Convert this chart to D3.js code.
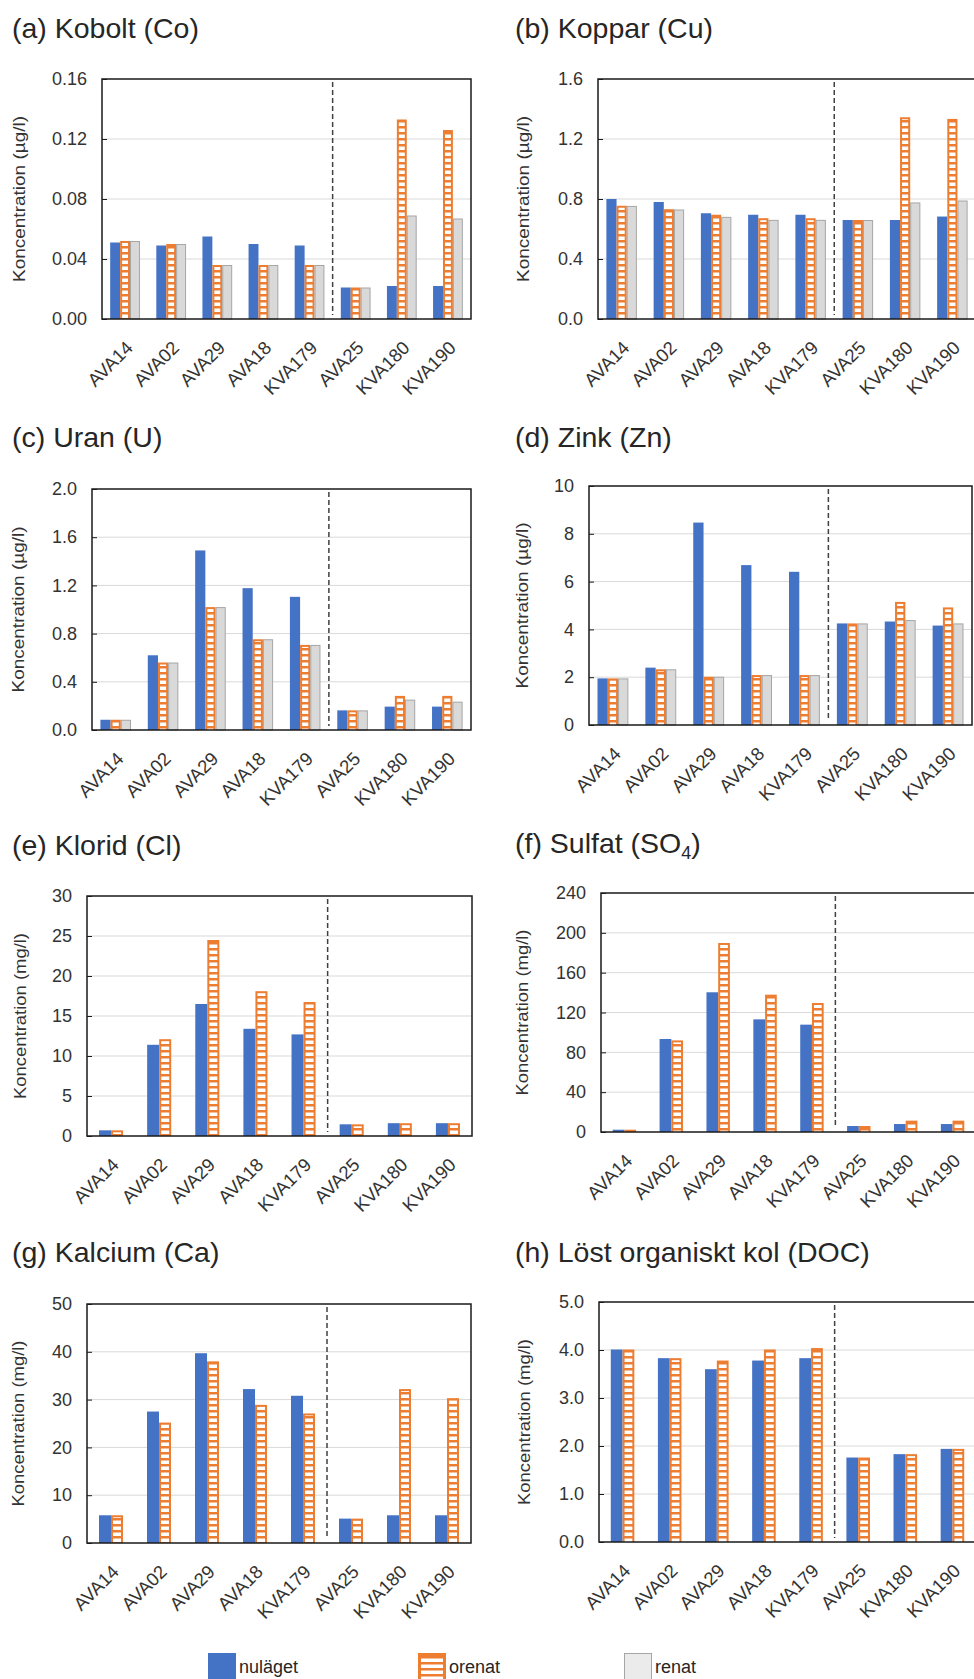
<!DOCTYPE html>
<html><head><meta charset="utf-8">
<script src="https://cdn.jsdelivr.net/npm/d3@7"></script>
<style>
html,body{margin:0;padding:0;background:#fff;}
svg{display:block;font-family:"Liberation Sans",Arial,sans-serif;}
</style></head>
<body><svg id="chart" width="974" height="1679"></svg>
<script>
// ---------- DATA ----------
const categories = ["AVA14","AVA02","AVA29","AVA18","KVA179","AVA25","KVA180","KVA190"];
const seriesNames = ["nuläget","orenat","renat"];

const coNuläget = [0.051,0.049,0.055,0.050,0.049,0.021,0.022,0.022];
const coOrenat  = [0.052,0.050,0.036,0.036,0.036,0.021,0.133,0.126];
const coRenat   = [0.052,0.050,0.036,0.036,0.036,0.021,0.069,0.067];

const cuNuläget = [0.80,0.78,0.705,0.695,0.695,0.66,0.66,0.683];
const cuOrenat  = [0.755,0.732,0.695,0.672,0.672,0.66,1.345,1.334];
const cuRenat   = [0.754,0.730,0.681,0.661,0.661,0.66,0.777,0.790];

const uNuläget = [0.085,0.62,1.49,1.177,1.105,0.163,0.194,0.194];
const uOrenat  = [0.085,0.56,1.02,0.753,0.706,0.163,0.283,0.283];
const uRenat   = [0.085,0.56,1.02,0.753,0.706,0.163,0.252,0.235];

const znNuläget = [1.95,2.40,8.47,6.69,6.41,4.25,4.33,4.16];
const znOrenat  = [1.95,2.33,2.02,2.09,2.09,4.25,5.15,4.92];
const znRenat   = [1.95,2.33,2.02,2.09,2.09,4.25,4.39,4.25];

const clNuläget = [0.71,11.4,16.5,13.4,12.7,1.46,1.6,1.6];
const clOrenat  = [0.71,12.1,24.5,18.1,16.75,1.46,1.6,1.6];

const so4Nuläget = [2.3,93.4,140.3,113.1,107.8,6.0,8.0,8.0];
const so4Orenat  = [2.3,92.0,189.8,137.9,129.5,6.0,11.4,11.4];

const caNuläget = [5.8,27.5,39.7,32.2,30.8,5.1,5.8,5.8];
const caOrenat  = [5.8,25.2,38.0,28.9,27.1,5.1,32.2,30.3];

const docNuläget = [4.01,3.83,3.60,3.78,3.83,1.76,1.83,1.94];
const docOrenat  = [4.01,3.83,3.78,4.01,4.04,1.76,1.83,1.94];

const yTicksCo  = [0,0.04,0.08,0.12,0.16];
const yTicksCu  = [0,0.4,0.8,1.2,1.6];
const yTicksU   = [0,0.4,0.8,1.2,1.6,2.0];
const yTicksZn  = [0,2,4,6,8,10];
const yTicksCl  = [0,5,10,15,20,25,30];
const yTicksSO4 = [0,40,80,120,160,200,240];
const yTicksCa  = [0,10,20,30,40,50];
const yTicksDOC = [0,1,2,3,4,5];

const titles = ["(a) Kobolt (Co)","(b) Koppar (Cu)","(c) Uran (U)","(d) Zink (Zn)",
                "(e) Klorid (Cl)","(f) Sulfat (SO|4|)","(g) Kalcium (Ca)","(h) Löst organiskt kol (DOC)"];
const yLabels = ["Koncentration (µg/l)","Koncentration (µg/l)","Koncentration (µg/l)","Koncentration (µg/l)",
                 "Koncentration (mg/l)","Koncentration (mg/l)","Koncentration (mg/l)","Koncentration (mg/l)"];

// ---------- LAYOUT ----------
const layout = [
  {x0:102,x1:471,y0:79,y1:319,tx:12,ty:38,lx:19,fmt:".2f"},
  {x0:598,x1:976,y0:79,y1:319,tx:515,ty:38,lx:523,fmt:".1f"},
  {x0:92,x1:471,y0:489,y1:730,tx:12,ty:447,lx:18,fmt:".1f"},
  {x0:589,x1:972,y0:486,y1:725,tx:515,ty:447,lx:522,fmt:"d"},
  {x0:87,x1:472,y0:896,y1:1136,tx:12,ty:855,lx:20,fmt:"d"},
  {x0:601,x1:976,y0:893,y1:1132,tx:515,ty:853,lx:522,fmt:"d"},
  {x0:87,x1:471,y0:1304,y1:1543,tx:12,ty:1262,lx:18,fmt:"d"},
  {x0:599,x1:976,y0:1302,y1:1542,tx:515,ty:1262,lx:524,fmt:".1f"}
];
const panelSeries = [
  [coNuläget,coOrenat,coRenat],[cuNuläget,cuOrenat,cuRenat],
  [uNuläget,uOrenat,uRenat],[znNuläget,znOrenat,znRenat],
  [clNuläget,clOrenat],[so4Nuläget,so4Orenat],
  [caNuläget,caOrenat],[docNuläget,docOrenat]
];
const panelTicks = [yTicksCo,yTicksCu,yTicksU,yTicksZn,yTicksCl,yTicksSO4,yTicksCa,yTicksDOC];

const BLUE="#4472C4", ORANGE="#ED7D31", GRAYF="#D9D9D9", GRAYS="#A6A6A6";
const FONT="Liberation Sans, Arial, sans-serif";
const svg = d3.select("#chart");
const defs = svg.append("defs");
const pat = defs.append("pattern").attr("id","stripes").attr("patternUnits","userSpaceOnUse")
  .attr("width",40).attr("height",6);
pat.append("rect").attr("x",0).attr("y",0).attr("width",40).attr("height",6).attr("fill",ORANGE);
pat.append("rect").attr("x",0).attr("y",2.5).attr("width",40).attr("height",3.5).attr("fill","#fff");

function drawPanel(i){
  const L = layout[i], series = panelSeries[i], ticks = panelTicks[i];
  const g = svg.append("g");
  const x = d3.scaleBand().domain(categories).range([L.x0,L.x1]);
  const y = d3.scaleLinear().domain([ticks[0],ticks[ticks.length-1]]).range([L.y1,L.y0]);
  const n = series.length;
  const bw = n===3 ? x.bandwidth()*0.215 : x.bandwidth()*0.25;
  const inner = d3.scaleBand().domain(d3.range(n)).range([0,bw*n]);
  const off = (x.bandwidth()-bw*n)/2;

  // gridlines
  g.append("g").selectAll("line").data(ticks.slice(1,-1)).join("line")
    .attr("x1",L.x0).attr("x2",L.x1).attr("y1",d=>y(d)).attr("y2",d=>y(d))
    .attr("stroke","#D9D9D9").attr("stroke-width",1);

  // bars
  series.forEach((vals,s)=>{
    const bg = g.append("g");
    categories.forEach((c,k)=>{
      const bx = x(c)+off+inner(s), by = y(vals[k]), bh = y(0)-y(vals[k]);
      if(s===0){
        bg.append("rect").attr("x",bx).attr("y",by).attr("width",bw).attr("height",bh).attr("fill",BLUE);
      } else if(s===1){
        bg.append("rect").attr("x",bx).attr("y",by).attr("width",bw).attr("height",bh).attr("fill",ORANGE);
        if(bh>3 && bw>4) bg.append("rect").attr("x",bx+2).attr("y",by+2).attr("width",bw-4).attr("height",bh-2)
          .attr("fill","url(#stripes)");
      } else {
        bg.append("rect").attr("x",bx+0.5).attr("y",by+0.5).attr("width",bw-1).attr("height",bh-0.5)
          .attr("fill",GRAYF).attr("stroke",GRAYS).attr("stroke-width",1);
      }
    });
  });

  // dashed separator between KVA179 and AVA25
  const sx = x("AVA25");
  g.append("line").attr("x1",sx).attr("x2",sx).attr("y1",L.y0+3).attr("y2",L.y1-4)
    .attr("stroke","#404040").attr("stroke-width",1.5).attr("stroke-dasharray","5,3");

  // frame
  g.append("rect").attr("x",L.x0).attr("y",L.y0).attr("width",L.x1-L.x0).attr("height",L.y1-L.y0)
    .attr("fill","none").attr("stroke","#1a1a1a").attr("stroke-width",1.5);

  // y axis
  const yAxis = d3.axisLeft(y).tickValues(ticks).tickFormat(d3.format(L.fmt)).tickSizeInner(-5).tickSizeOuter(0).tickPadding(15);
  const ya = g.append("g").attr("transform",`translate(${L.x0},0)`).call(yAxis);
  ya.select(".domain").remove();
  ya.selectAll(".tick line").attr("stroke","#1a1a1a");
  ya.selectAll("text").attr("font-size",18).attr("fill","#333").attr("font-family",FONT);

  // x axis labels
  const xAxis = d3.axisBottom(x).tickSize(0).tickPadding(0);
  const xa = g.append("g").attr("transform",`translate(0,${L.y1})`).call(xAxis);
  xa.select(".domain").remove();
  xa.selectAll("text").attr("font-size",18.5).attr("fill","#333")
    .attr("font-family",FONT)
    .attr("text-anchor","end").attr("dy",0)
    .attr("transform","translate(9,30) rotate(-45)");

  // y label
  g.append("text").attr("transform",`translate(${L.lx},${(L.y0+L.y1)/2}) rotate(-90)`)
    .attr("text-anchor","middle").attr("dominant-baseline","central")
    .attr("font-size",17).attr("fill","#333")
    .attr("textLength",166).attr("lengthAdjust","spacingAndGlyphs")
    .text(yLabels[i]);

  // title
  const t = g.append("text").attr("x",L.tx).attr("y",L.ty).attr("font-size",28.5).attr("fill","#262626");
  const parts = titles[i].split("|");
  parts.forEach((p,k)=>{
    const ts = t.append("tspan").text(p);
    if(k===1){ ts.attr("font-size",18).attr("dy",6); }
    if(k===2){ ts.attr("dy",-6); }
  });
}
for(let i=0;i<8;i++) drawPanel(i);

// legend
const legendX = [208,418,624];
const leg = svg.append("g");
seriesNames.forEach((name,k)=>{
  const lx = legendX[k], ly = 1653;
  if(k===0){
    leg.append("rect").attr("x",lx).attr("y",ly).attr("width",28).attr("height",30).attr("fill",BLUE);
  } else if(k===1){
    leg.append("rect").attr("x",lx).attr("y",ly).attr("width",28).attr("height",30).attr("fill",ORANGE);
    leg.append("rect").attr("x",lx+3).attr("y",ly+3).attr("width",22).attr("height",27).attr("fill","url(#stripes)");
  } else {
    leg.append("rect").attr("x",lx+0.5).attr("y",ly+0.5).attr("width",27).attr("height",30).attr("fill","#EBEBEB").attr("stroke",GRAYS);
  }
  leg.append("text").attr("x",lx+31).attr("y",1673).attr("font-size",18).attr("fill","#262626").text(name);
});
</script></body></html>
